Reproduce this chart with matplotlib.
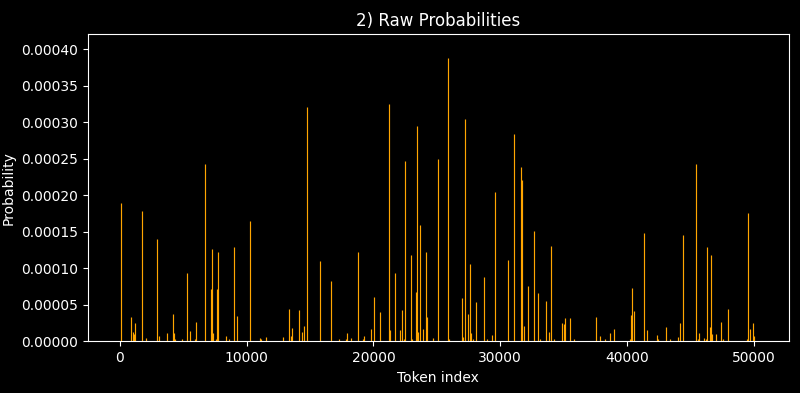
import numpy as np
import matplotlib
matplotlib.use('Agg')
import matplotlib.pyplot as plt

vocab_size = 50257

# token ids with visible probability mass
token_idx = [100, 893, 1010, 1090, 1207, 1709, 2025, 2918, 3100, 3730, 4206, 4285, 4360,
             4863, 5258, 5520, 5900, 5970, 6730, 7200, 7280, 7360, 7600, 7675, 7755, 8410,
             8600, 9043, 9280, 10280, 11070, 11150, 11540,
             12855, 13330, 13500, 13590, 14140, 14380, 14535, 14800, 15770, 16640, 17260,
             17850, 17930, 18270, 18820, 19160, 19240, 19790, 20050, 20530, 21240, 21320,
             21710, 22080, 22240, 22400, 22530, 22930, 23010, 23340, 23420, 23500, 23660,
             23920, 24160, 24240, 24710, 25130, 25890,
             25970, 27000, 27080, 27230, 27470, 27630, 27710, 27870, 28100, 28760, 29000,
             29340, 29570, 30620, 31100, 31680, 31760, 31920, 32230, 32650, 32960, 33120,
             33620, 33860, 34020, 34260, 34910, 35070, 35150, 35540, 35850, 37570, 37880,
             38280, 38700, 39010,
             40240, 40320, 40400, 40560, 41350, 41620, 42400, 42480, 43060, 43380, 44030,
             44190, 44420, 45480, 45640, 45720, 46060, 46210, 46290, 46530, 46610, 46690,
             47030, 47420, 47580, 47970, 49450, 49530, 49680, 49920, 50000]

probs = [1.90e-4, 3.3e-5, 1.27e-5, 1.0e-5, 2.47e-5, 1.785e-4, 4.5e-6, 1.40e-4, 7e-6, 1.1e-5,
         3.8e-5, 1.1e-5, 3e-6, 3e-6, 9.35e-5, 1.4e-5, 3e-6, 2.7e-5, 2.43e-4, 7.2e-5,
         1.265e-4, 1.1e-5, 3e-6, 7.2e-5, 1.22e-4, 7e-6, 3e-6, 1.29e-4, 3.4e-5, 1.645e-4,
         4.5e-6, 3e-6, 6e-6,
         6e-6, 4.4e-5, 7e-6, 1.8e-5, 4.25e-5, 1.27e-5, 2.1e-5, 3.21e-4, 1.10e-4, 8.2e-5,
         3e-6, 3e-6, 1.1e-5, 4.5e-6, 1.22e-4, 3e-6, 7e-6, 1.7e-5, 6.07e-5, 4.0e-5,
         3.25e-4, 1.5e-5, 9.35e-5, 1.5e-5, 4.25e-5, 3e-6, 2.47e-4, 1.18e-4, 3e-6,
         6.75e-5, 2.95e-4, 1.27e-5, 1.59e-4, 1.7e-5, 1.22e-4, 3.3e-5, 4.5e-6, 2.50e-4,
         3.877e-4,
         3e-6, 5.93e-5, 6e-6, 3.045e-4, 3.8e-5, 1.06e-4, 1.1e-5, 3e-6, 5.4e-5, 8.75e-5,
         3e-6, 8e-6, 2.05e-4, 1.11e-4, 2.84e-4, 2.39e-4, 2.21e-4, 2.1e-5, 7.6e-5,
         1.51e-4, 6.6e-5, 3e-6, 5.5e-5, 1.27e-5, 1.305e-4, 3e-6, 2.5e-5, 2.3e-5,
         3.15e-5, 3.15e-5, 3e-6, 3.3e-5, 7e-6, 3e-6, 1.1e-5, 1.7e-5,
         3e-6, 3.55e-5, 7.3e-5, 4.1e-5, 1.48e-4, 1.5e-5, 8e-6, 3e-6, 1.9e-5, 3e-6,
         6e-6, 2.5e-5, 1.45e-4, 2.43e-4, 3e-6, 1.1e-5, 4.5e-6, 3e-6, 1.29e-4, 1.9e-5,
         1.18e-4, 1.0e-5, 1.0e-5, 2.7e-5, 3e-6, 4.4e-5, 3e-6, 1.755e-4, 1.7e-5, 2.5e-5,
         7e-6]

plt.style.use('dark_background')
fig = plt.figure(figsize=(8, 3.93), dpi=100)
ax = fig.add_axes([0.11, 0.1316, 0.876, 0.782])

ax.vlines(token_idx, 0, probs, color='orange', linewidth=0.85)

ax.set_xlim(-0.05 * vocab_size, 1.05 * vocab_size)
ax.set_ylim(0, 0.000421)
ax.set_title('2) Raw Probabilities')
ax.set_xlabel('Token index')
ax.set_ylabel('Probability')

fig.savefig('out.png', dpi=100)
